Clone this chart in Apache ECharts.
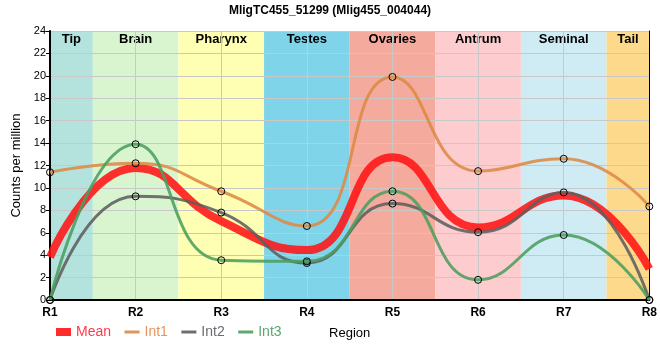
<!DOCTYPE html>
<html><head><meta charset="utf-8">
<script src="https://cdn.jsdelivr.net/npm/echarts@6/dist/echarts.min.js"></script>
<style>html,body{margin:0;padding:0;background:#fff}#c{width:660px;height:360px}</style>
</head><body><div id="c"></div>
<script>
const categories = ['R1', 'R2', 'R3', 'R4', 'R5', 'R6', 'R7', 'R8'];
const meanValues = [3.83, 11.78, 7.03, 4.45, 12.73, 6.47, 9.33, 2.77];
const int1Values = [11.4, 12.2, 9.7, 6.6, 19.9, 11.5, 12.6, 8.35];
const int2Values = [0, 9.25, 7.8, 3.3, 8.6, 6.05, 9.6, 0];
const int3Values = [0, 13.9, 3.55, 3.45, 9.7, 1.8, 5.8, 0];
const regionNames = ['Tip', 'Brain', 'Pharynx', 'Testes', 'Ovaries', 'Antrum', 'Seminal', 'Tail'];
const seriesNames = ['Mean', 'Int1', 'Int2', 'Int3'];

const regionColors = ['#b4e2dd', '#d8f5d0', '#ffffb4', '#7fd4ea', '#f4aa9c', '#fdcccf', '#cfebf4', '#fdd98b'];
const lineColors = ['#ff1515', '#dd8a45', '#5e5e5e', '#4c9e5e'];
const legendTextColors = ['#ff3a48', '#e8935a', '#6a6a72', '#5aa86e'];
const lineWidths = [8, 3, 3, 3];

const font = 'Liberation Sans, Arial, sans-serif';
const chart = echarts.init(document.getElementById('c'), null, {renderer: 'canvas'});

const valueSets = [meanValues, int1Values, int2Values, int3Values];
const last = categories.length - 1;

const bandData = regionNames.map((n, i) => [
  {name: n, xAxis: Math.max(0, i - 0.5), itemStyle: {color: regionColors[i]}},
  {xAxis: Math.min(last, i + 0.5)}
]);

const series = [{
  type: 'line', xAxisIndex: 1, yAxisIndex: 0, data: [], z: -1, silent: true,
  markArea: {
    silent: true, z: -1,
    label: {show: true, position: 'insideTop', distance: 2, color: '#000', fontWeight: 'bold', fontSize: 13, fontFamily: font},
    data: bandData
  }
}];
seriesNames.forEach((name, k) => {
  series.push({
    name: name, type: 'line', xAxisIndex: 0, yAxisIndex: 0,
    data: valueSets[k], smooth: true,
    symbol: k === 0 ? 'none' : 'circle', symbolSize: 7,
    itemStyle: {color: 'rgba(0,0,0,0)', borderColor: '#000', borderWidth: 1},
    lineStyle: {color: lineColors[k], width: lineWidths[k], opacity: 0.88},
    z: 2 + k
  });
});

chart.setOption({
  animation: false,
  textStyle: {fontFamily: font},
  title: {text: 'MligTC455_51299 (Mlig455_004044)', left: 'center', top: 0,
    textStyle: {fontSize: 12, fontWeight: 'bold', color: '#000', fontFamily: font}},
  grid: {left: 50, right: 9, top: 31, bottom: 60, containLabel: false},
  legend: {
    left: 47, top: 320, itemWidth: 15, itemHeight: 8, itemGap: 12,
    textStyle: {fontSize: 14, fontFamily: font},
    data: seriesNames.map((n, k) => ({
      name: n,
      itemStyle: {opacity: 0},
      lineStyle: {width: k === 0 ? 8 : 3, color: lineColors[k], opacity: 0.9},
      textStyle: {color: legendTextColors[k], width: k === 0 ? undefined : 29}
    }))
  },
  xAxis: [{
    type: 'category', data: categories, boundaryGap: false,
    axisLine: {lineStyle: {color: '#000', width: 2}},
    axisTick: {show: false},
    axisLabel: {color: '#000', fontWeight: 'bold', fontSize: 12, margin: 7, fontFamily: font},
    splitLine: {show: true, lineStyle: {color: '#c8c8c8'}},
    name: 'Region', nameLocation: 'middle', nameGap: 27,
    nameTextStyle: {color: '#000', fontSize: 13, fontFamily: font}
  }, {
    type: 'value', min: 0, max: last, position: 'top',
    axisLine: {show: true, lineStyle: {color: '#000', width: 1}},
    axisTick: {show: false}, axisLabel: {show: false}, splitLine: {show: false}
  }],
  yAxis: [{
    type: 'value', min: 0, max: 24, interval: 2,
    axisLine: {show: true, lineStyle: {color: '#000', width: 2}},
    axisTick: {show: true, length: 4, lineStyle: {color: '#000'}},
    axisLabel: {color: '#000', fontSize: 11, margin: 4, fontFamily: font},
    splitLine: {show: true, lineStyle: {color: '#c8c8c8'}},
    name: 'Counts per million', nameLocation: 'middle', nameGap: 22, nameRotate: 90,
    nameTextStyle: {color: '#000', fontSize: 13, fontFamily: font}
  }, {
    type: 'value', min: 0, max: 24, interval: 2, position: 'right',
    axisLine: {show: true, lineStyle: {color: '#000', width: 1}},
    axisTick: {show: false}, axisLabel: {show: false}, splitLine: {show: false}
  }],
  series: series
});
</script></body></html>
